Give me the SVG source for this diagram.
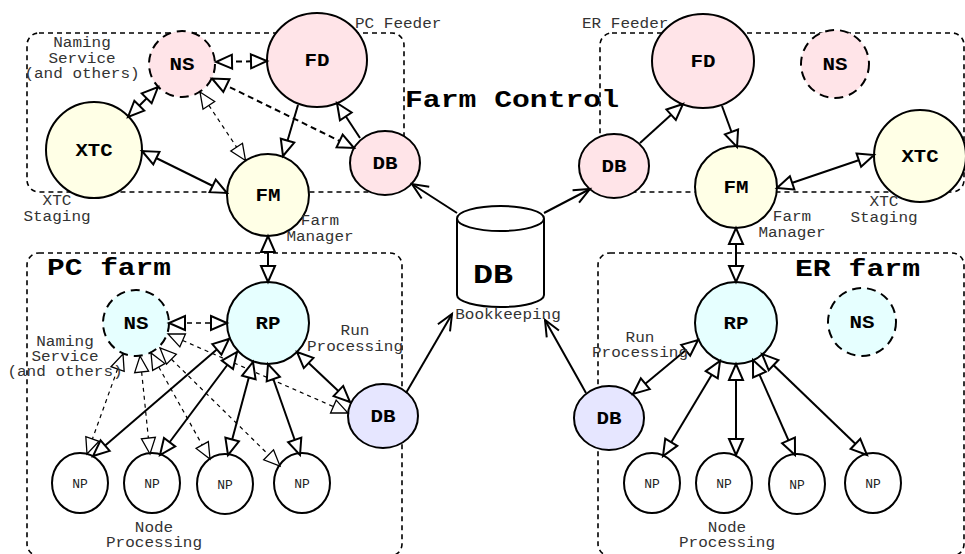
<svg xmlns="http://www.w3.org/2000/svg" width="965" height="554" viewBox="0 0 965 554">
  <style>
    .frame { fill: none; stroke: #000; stroke-width: 1.6; stroke-dasharray: 5 4; }
    .node { stroke: #000; stroke-width: 2; }
    .svc { stroke-dasharray: 9 6; }
    .pink { fill: #ffe4e8; }
    .yellow { fill: #ffffe6; }
    .cyan { fill: #e6ffff; }
    .lav { fill: #e6e6ff; }
    .white { fill: #fff; }
    .nl { font-family: "Liberation Mono", "DejaVu Sans Mono", monospace; font-weight: bold; font-size: 18px; text-anchor: middle; fill: #000; }
    .np { font-family: "Liberation Mono", "DejaVu Sans Mono", monospace; font-size: 13px; text-anchor: middle; fill: #222; }
    .lbl { font-family: "Liberation Mono", "DejaVu Sans Mono", monospace; font-size: 14px; text-anchor: middle; fill: #333; }
    .title { font-family: "Liberation Mono", "DejaVu Sans Mono", monospace; font-weight: bold; font-size: 23px; fill: #000; }
    .solid { fill: none; stroke: #000; stroke-width: 2; }
    .dthick { fill: none; stroke: #000; stroke-width: 2; stroke-dasharray: 6 4; }
    .dmid { fill: none; stroke: #000; stroke-width: 1.5; stroke-dasharray: 5 4; }
    .dthin { fill: none; stroke: #000; stroke-width: 1.2; stroke-dasharray: 4 4; }
  </style>
  <defs>
    <marker id="tri" viewBox="0 0 18 16" refX="17" refY="8" markerWidth="18" markerHeight="16" markerUnits="userSpaceOnUse" orient="auto-start-reverse" overflow="visible">
      <path d="M1,1 L17,8 L1,15 Z" fill="#fff" stroke="#000" stroke-width="2"/>
    </marker>
    <marker id="triThin" viewBox="0 0 18 16" refX="17" refY="8" markerWidth="18" markerHeight="16" markerUnits="userSpaceOnUse" orient="auto-start-reverse" overflow="visible">
      <path d="M1,1 L17,8 L1,15 Z" fill="#fff" stroke="#000" stroke-width="1.3"/>
    </marker>
    <marker id="open" viewBox="0 0 18 16" refX="17" refY="8" markerWidth="18" markerHeight="16" markerUnits="userSpaceOnUse" orient="auto" overflow="visible">
      <path d="M1,1 L17,8 L1,15" fill="none" stroke="#000" stroke-width="2"/>
    </marker>
  </defs>

  <rect width="965" height="554" fill="#fff"/>

  <!-- dashed group frames -->
  <g id="frames">
    <rect class="frame" x="27" y="33" width="377" height="159" rx="12"/>
    <rect class="frame" x="600" y="33" width="364" height="159" rx="12"/>
    <rect class="frame" x="27" y="253" width="375" height="303" rx="12"/>
    <rect class="frame" x="598" y="253" width="366" height="303" rx="12"/>
  </g>

  <!-- PC feeder / farm control -->
  <g id="ns-pc-ctl"><circle class="node svc pink" cx="182" cy="64" r="33"/><text class="nl" x="182" y="70" textLength="25" lengthAdjust="spacingAndGlyphs">NS</text></g>
  <g id="fd-pc"><ellipse class="node pink" cx="317" cy="60" rx="50" ry="47"/><text class="nl" x="317" y="66" textLength="25" lengthAdjust="spacingAndGlyphs">FD</text></g>
  <g id="xtc-pc"><circle class="node yellow" cx="94" cy="150" r="48"/><text class="nl" x="94" y="156" textLength="37" lengthAdjust="spacingAndGlyphs">XTC</text></g>
  <g id="fm-pc"><circle class="node yellow" cx="268" cy="195" r="41"/><text class="nl" x="268" y="201" textLength="25" lengthAdjust="spacingAndGlyphs">FM</text></g>
  <g id="db-pc"><ellipse class="node pink" cx="385" cy="163" rx="35" ry="32"/><text class="nl" x="385" y="169" textLength="25" lengthAdjust="spacingAndGlyphs">DB</text></g>

  <!-- ER feeder / farm control -->
  <g id="db-er"><ellipse class="node pink" cx="614" cy="166" rx="35" ry="32"/><text class="nl" x="614" y="172" textLength="25" lengthAdjust="spacingAndGlyphs">DB</text></g>
  <g id="fd-er"><ellipse class="node pink" cx="703" cy="61" rx="51" ry="47"/><text class="nl" x="703" y="67" textLength="25" lengthAdjust="spacingAndGlyphs">FD</text></g>
  <g id="fm-er"><circle class="node yellow" cx="736" cy="187" r="41"/><text class="nl" x="736" y="193" textLength="25" lengthAdjust="spacingAndGlyphs">FM</text></g>
  <g id="ns-er-ctl"><circle class="node svc pink" cx="835" cy="64" r="34"/><text class="nl" x="835" y="70" textLength="25" lengthAdjust="spacingAndGlyphs">NS</text></g>
  <g id="xtc-er"><circle class="node yellow" cx="920" cy="156" r="46"/><text class="nl" x="920" y="162" textLength="37" lengthAdjust="spacingAndGlyphs">XTC</text></g>

  <!-- bookkeeping database -->
  <g id="bookkeeping">
    <path class="node white" d="M457,218.5 V295 A43.5,12 0 0 0 544,295 V218.5"/>
    <ellipse class="node white" cx="500.5" cy="218.5" rx="43.5" ry="12.5"/>
    <text x="473" y="283" font-family="Liberation Mono, DejaVu Sans Mono, monospace" font-weight="bold" font-size="27" textLength="40" lengthAdjust="spacingAndGlyphs">DB</text>
  </g>

  <!-- PC farm -->
  <g id="ns-pc-farm"><circle class="node svc cyan" cx="136" cy="323" r="33"/><text class="nl" x="136" y="329" textLength="25" lengthAdjust="spacingAndGlyphs">NS</text></g>
  <g id="rp-pc"><circle class="node cyan" cx="268" cy="323" r="41"/><text class="nl" x="268" y="329" textLength="25" lengthAdjust="spacingAndGlyphs">RP</text></g>
  <g id="db-pc-run"><ellipse class="node lav" cx="383" cy="416" rx="35" ry="32"/><text class="nl" x="383" y="422" textLength="25" lengthAdjust="spacingAndGlyphs">DB</text></g>
  <g id="np-pc-1"><ellipse class="node white" cx="80" cy="483" rx="28" ry="30"/><text class="np" x="80" y="488">NP</text></g>
  <g id="np-pc-2"><ellipse class="node white" cx="152" cy="483" rx="28" ry="30"/><text class="np" x="152" y="488">NP</text></g>
  <g id="np-pc-3"><ellipse class="node white" cx="225" cy="484" rx="28" ry="30"/><text class="np" x="225" y="489">NP</text></g>
  <g id="np-pc-4"><ellipse class="node white" cx="302" cy="483" rx="28" ry="30"/><text class="np" x="302" y="488">NP</text></g>

  <!-- ER farm -->
  <g id="rp-er"><circle class="node cyan" cx="736" cy="323" r="41"/><text class="nl" x="736" y="329" textLength="25" lengthAdjust="spacingAndGlyphs">RP</text></g>
  <g id="db-er-run"><ellipse class="node lav" cx="609" cy="418" rx="35" ry="32"/><text class="nl" x="609" y="424" textLength="25" lengthAdjust="spacingAndGlyphs">DB</text></g>
  <g id="ns-er-farm"><circle class="node svc cyan" cx="862" cy="322" r="34"/><text class="nl" x="862" y="328" textLength="25" lengthAdjust="spacingAndGlyphs">NS</text></g>
  <g id="np-er-1"><ellipse class="node white" cx="652" cy="483" rx="28" ry="30"/><text class="np" x="652" y="488">NP</text></g>
  <g id="np-er-2"><ellipse class="node white" cx="724" cy="483" rx="28" ry="30"/><text class="np" x="724" y="488">NP</text></g>
  <g id="np-er-3"><ellipse class="node white" cx="797" cy="484" rx="28" ry="30"/><text class="np" x="797" y="489">NP</text></g>
  <g id="np-er-4"><ellipse class="node white" cx="873" cy="483" rx="28" ry="30"/><text class="np" x="873" y="488">NP</text></g>

  <!-- connectors -->
  <g id="connectors">
    <!-- PC control side -->
    <line class="dthick" x1="216" y1="62" x2="267" y2="61" marker-start="url(#tri)" marker-end="url(#tri)"/>
    <line class="solid" x1="128" y1="117" x2="158" y2="87" marker-start="url(#tri)" marker-end="url(#tri)"/>
    <line class="dthick" x1="212" y1="78.5" x2="354" y2="148" marker-start="url(#tri)" marker-end="url(#tri)"/>
    <line class="dthin" x1="200" y1="92" x2="245.5" y2="160.5" marker-start="url(#triThin)" marker-end="url(#triThin)"/>
    <line class="solid" x1="298" y1="105" x2="283" y2="156" marker-end="url(#tri)"/>
    <line class="solid" x1="360" y1="138" x2="337" y2="103" marker-end="url(#tri)"/>
    <line class="solid" x1="142" y1="151" x2="227" y2="193" marker-start="url(#tri)" marker-end="url(#tri)"/>
    <line class="solid" x1="268" y1="236" x2="268" y2="282" marker-start="url(#tri)" marker-end="url(#tri)"/>

    <!-- bookkeeping links -->
    <line class="solid" x1="457" y1="213" x2="412" y2="184" marker-end="url(#open)"/>
    <line class="solid" x1="544" y1="213" x2="590" y2="189" marker-end="url(#open)"/>
    <line class="solid" x1="406" y1="393" x2="452" y2="314" marker-end="url(#open)"/>
    <line class="solid" x1="586" y1="393" x2="545" y2="320" marker-end="url(#open)"/>

    <!-- ER control side -->
    <line class="solid" x1="640" y1="143" x2="683" y2="104" marker-end="url(#tri)"/>
    <line class="solid" x1="722" y1="106" x2="737" y2="147" marker-end="url(#tri)"/>
    <line class="solid" x1="777" y1="188" x2="874" y2="155" marker-start="url(#tri)" marker-end="url(#tri)"/>
    <line class="solid" x1="736" y1="228" x2="736" y2="282" marker-start="url(#tri)" marker-end="url(#tri)"/>

    <!-- PC farm -->
    <line class="dmid" x1="169" y1="323" x2="227" y2="323" marker-start="url(#tri)" marker-end="url(#tri)"/>
    <line class="solid" x1="297" y1="352" x2="350" y2="402" marker-start="url(#tri)" marker-end="url(#tri)"/>
    <line class="dthin" x1="168" y1="334" x2="348" y2="413" marker-start="url(#triThin)" marker-end="url(#triThin)"/>
    <line class="dthin" x1="123" y1="354" x2="87" y2="454" marker-start="url(#triThin)" marker-end="url(#triThin)"/>
    <line class="dthin" x1="140" y1="356" x2="150" y2="454" marker-start="url(#triThin)" marker-end="url(#triThin)"/>
    <line class="dthin" x1="151" y1="353" x2="210" y2="459" marker-start="url(#triThin)" marker-end="url(#triThin)"/>
    <line class="dthin" x1="160" y1="348" x2="280" y2="466" marker-start="url(#triThin)" marker-end="url(#triThin)"/>
    <line class="solid" x1="229" y1="339" x2="93" y2="456" marker-start="url(#tri)" marker-end="url(#tri)"/>
    <line class="solid" x1="237" y1="352" x2="160" y2="455" marker-start="url(#tri)" marker-end="url(#tri)"/>
    <line class="solid" x1="253" y1="362" x2="228" y2="455" marker-start="url(#tri)" marker-end="url(#tri)"/>
    <line class="solid" x1="268" y1="364" x2="300" y2="455" marker-start="url(#tri)" marker-end="url(#tri)"/>

    <!-- ER farm -->
    <line class="solid" x1="698" y1="340" x2="633" y2="394" marker-start="url(#tri)" marker-end="url(#tri)"/>
    <line class="solid" x1="720" y1="361" x2="663" y2="456" marker-start="url(#tri)" marker-end="url(#tri)"/>
    <line class="solid" x1="736" y1="364" x2="736" y2="455" marker-start="url(#tri)" marker-end="url(#tri)"/>
    <line class="solid" x1="753" y1="360" x2="795" y2="455" marker-start="url(#tri)" marker-end="url(#tri)"/>
    <line class="solid" x1="762" y1="354" x2="867" y2="455" marker-start="url(#tri)" marker-end="url(#tri)"/>
  </g>

  <!-- captions -->
  <g id="captions">
    <text class="lbl" x="82" y="47" textLength="57.6" lengthAdjust="spacingAndGlyphs">Naming</text>
    <text class="lbl" x="82" y="63" textLength="67.2" lengthAdjust="spacingAndGlyphs">Service</text>
    <text class="lbl" x="82" y="78" textLength="115.2" lengthAdjust="spacingAndGlyphs">(and others)</text>
    <text class="lbl" x="355" y="28" style="text-anchor:start" textLength="86.4" lengthAdjust="spacingAndGlyphs">PC Feeder</text>
    <text class="lbl" x="582" y="28" style="text-anchor:start" textLength="86.4" lengthAdjust="spacingAndGlyphs">ER Feeder</text>
    <text class="lbl" x="57" y="205" textLength="28.8" lengthAdjust="spacingAndGlyphs">XTC</text>
    <text class="lbl" x="57" y="221" textLength="67.2" lengthAdjust="spacingAndGlyphs">Staging</text>
    <text class="lbl" x="320" y="225" textLength="38.4" lengthAdjust="spacingAndGlyphs">Farm</text>
    <text class="lbl" x="320" y="241" textLength="67.2" lengthAdjust="spacingAndGlyphs">Manager</text>
    <text class="lbl" x="792" y="221" textLength="38.4" lengthAdjust="spacingAndGlyphs">Farm</text>
    <text class="lbl" x="792" y="237" textLength="67.2" lengthAdjust="spacingAndGlyphs">Manager</text>
    <text class="lbl" x="884" y="206" textLength="28.8" lengthAdjust="spacingAndGlyphs">XTC</text>
    <text class="lbl" x="884" y="222" textLength="67.2" lengthAdjust="spacingAndGlyphs">Staging</text>
    <text class="lbl" x="65" y="346" textLength="57.6" lengthAdjust="spacingAndGlyphs">Naming</text>
    <text class="lbl" x="65" y="361" textLength="67.2" lengthAdjust="spacingAndGlyphs">Service</text>
    <text class="lbl" x="65" y="376" textLength="115.2" lengthAdjust="spacingAndGlyphs">(and others)</text>
    <text class="lbl" x="355" y="335" textLength="28.8" lengthAdjust="spacingAndGlyphs">Run</text>
    <text class="lbl" x="355" y="351" textLength="96" lengthAdjust="spacingAndGlyphs">Processing</text>
    <text class="lbl" x="640" y="342" textLength="28.8" lengthAdjust="spacingAndGlyphs">Run</text>
    <text class="lbl" x="640" y="357" textLength="96" lengthAdjust="spacingAndGlyphs">Processing</text>
    <text class="lbl" x="154" y="532" textLength="38.4" lengthAdjust="spacingAndGlyphs">Node</text>
    <text class="lbl" x="154" y="547" textLength="96" lengthAdjust="spacingAndGlyphs">Processing</text>
    <text class="lbl" x="727" y="532" textLength="38.4" lengthAdjust="spacingAndGlyphs">Node</text>
    <text class="lbl" x="727" y="547" textLength="96" lengthAdjust="spacingAndGlyphs">Processing</text>
    <text class="lbl" x="508" y="319" textLength="105.6" lengthAdjust="spacingAndGlyphs">Bookkeeping</text>
    <text class="title" x="405" y="107" textLength="214" lengthAdjust="spacingAndGlyphs">Farm Control</text>
    <text class="title" x="47" y="275" textLength="124" lengthAdjust="spacingAndGlyphs">PC farm</text>
    <text class="title" x="795" y="276" textLength="125" lengthAdjust="spacingAndGlyphs">ER farm</text>
  </g>
</svg>
